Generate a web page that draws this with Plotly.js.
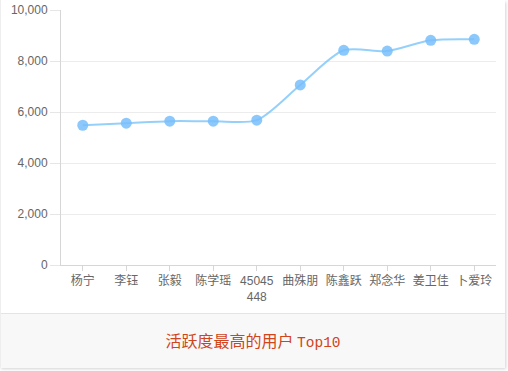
<!DOCTYPE html>
<html><head><meta charset="utf-8">
<script src="https://cdn.plot.ly/plotly-3.0.1.min.js"></script>
<style>
html,body{margin:0;padding:0;background:#fff;}
#card{position:absolute;left:0;top:0;width:504px;height:367px;background:#fff;border-left:1px solid #eee;box-shadow:1px 2px 3px rgba(0,0,0,0.18);}
#chart{position:absolute;left:0;top:0;width:504px;height:313px;}
#foot{position:absolute;left:0;top:313px;width:504px;height:54px;background:#f8f8f8;border-top:1px solid #e4e4e4;text-align:center;line-height:52px;font-size:16px;color:#d0451b;font-family:"Noto Sans CJK SC",serif;}
#foot .lat{font-family:"Liberation Mono",monospace;font-size:14.5px;}
</style></head>
<body>
<div id="card"><div id="chart"></div><div id="foot">活跃度最高的用户 <span class="lat">Top10</span></div></div>
<script>
const users = ["杨宁","李钰","张毅","陈学瑶","45045<br>448","曲殊朋","陈鑫跃","郑念华","姜卫佳","卜爱玲"];
const activity = [5480, 5560, 5640, 5640, 5680, 7060, 8420, 8390, 8810, 8850];
const yTicks = [0, 2000, 4000, 6000, 8000, 10000];
const yTickText = ["0","2,000","4,000","6,000","8,000","10,000"];

Plotly.newPlot('chart', [{
  x: users.map((_, i) => i),
  y: activity,
  type: 'scatter',
  mode: 'lines+markers',
  line: {shape: 'spline', smoothing: 0.8, color: 'rgba(130,200,250,0.85)', width: 2},
  marker: {size: 11, color: 'rgba(120,190,250,0.85)'},
  hoverinfo: 'none'
}], {
  width: 504, height: 313,
  margin: {l: 60, r: 9, t: 10, b: 48},
  paper_bgcolor: 'rgba(0,0,0,0)', plot_bgcolor: '#fff',
  showlegend: false,
  font: {family: '"Liberation Sans", Arial, sans-serif', color: '#666', size: 12},
  xaxis: {
    range: [-0.5, 9.5], tickmode: 'array', tickvals: users.map((_, i) => i), ticktext: users,
    showgrid: false, zeroline: false, showline: true, linecolor: '#d6d6d6', linewidth: 1,
    ticks: 'outside', ticklen: 5, tickcolor: '#d6d6d6', tickfont: {size: 12, color: '#666', family: '"Liberation Sans", "Noto Sans CJK SC", sans-serif'},
    fixedrange: true
  },
  yaxis: {
    range: [0, 10000], tickmode: 'array', tickvals: yTicks, ticktext: yTickText,
    showgrid: true, gridcolor: '#ececec', gridwidth: 1, zeroline: false,
    showline: true, linecolor: '#d6d6d6', linewidth: 1,
    ticks: 'outside', ticklen: 10, tickcolor: '#e6e6e6', tickfont: {size: 12, color: '#666'},
    fixedrange: true
  }
}, {displayModeBar: false, staticPlot: true});
</script>
</body></html>
